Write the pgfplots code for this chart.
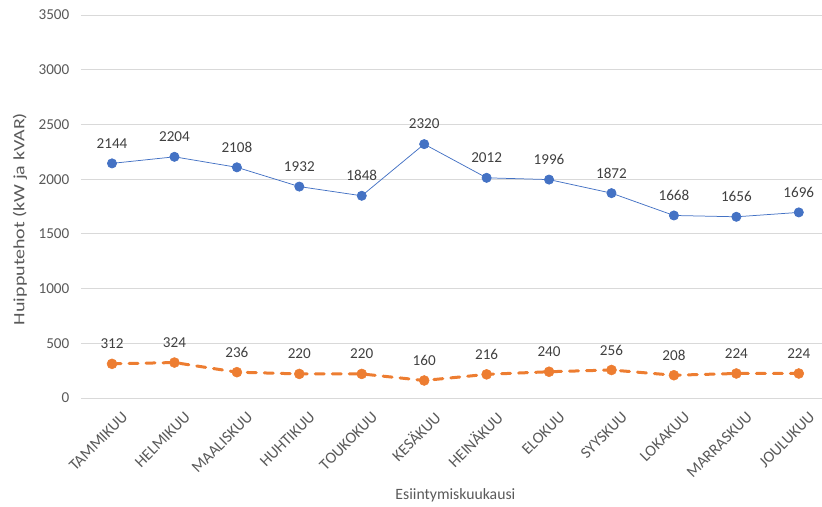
\documentclass[border=0pt]{standalone}
\usepackage{pgfplots}
\pgfplotsset{compat=1.18}
\usepackage{fontspec}
\setmainfont{Carlito}

\definecolor{txt}{HTML}{595959}
\definecolor{lbl}{HTML}{404040}
\definecolor{gridc}{HTML}{D9D9D9}
\definecolor{kw}{HTML}{4472C4}
\definecolor{kvar}{HTML}{ED7D31}

\pgfplotsset{
  /pgf/number format/.cd, 1000 sep={}, assume math mode=true,
}

\begin{document}
\begin{tikzpicture}[x=1bp,y=1bp]
\begin{axis}[
  at={(80.8bp,109bp)}, anchor=south west,
  scale only axis, width=749.2bp, height=383bp,
  xmin=-0.5, xmax=11.5, ymin=0, ymax=3500,
  ytick={0,500,...,3500},
  xtick={0,...,11},
  xticklabels={TAMMIKUU,HELMIKUU,MAALISKUU,HUHTIKUU,TOUKOKUU,KESÄKUU,HEINÄKUU,ELOKUU,SYYSKUU,LOKAKUU,MARRASKUU,JOULUKUU},
  axis line style={draw=none},
  major tick length=0pt,
  ymajorgrids,
  grid style={draw=gridc, line width=0.75pt},
  tick label style={font=\fontsize{15.2}{18}\selectfont, text=txt},
  yticklabel style={xshift=-8bp},
  xticklabel style={font=\fontsize{16}{19}\selectfont, rotate=45, anchor=east, yshift=-21bp, xshift=1bp},
  xlabel={Esiintymiskuukausi},
  ylabel={\scalebox{1.27}[1]{Huipputehot (kW ja kVAR)}},
  label style={font=\fontsize{15.8}{19}\selectfont, text=txt},
  xlabel style={at={(axis description cs:0.5,-0.2533)}, anchor=center},
  ylabel style={at={(axis description cs:-0.0812,0.4674)}, anchor=center},
  nodes near coords,
  every node near coord/.style={font=\fontsize{15.2}{18}\selectfont, text=lbl, anchor=center, yshift=20bp},
  clip=false,
]
% Peak active power (kW)
\addplot[color=kw, line width=0.75pt, mark=*, mark size=4.6bp, mark options={solid, fill=kw, draw=kw}]
  coordinates {(0,2144) (1,2204) (2,2108) (3,1932) (4,1848) (5,2320) (6,2012) (7,1996) (8,1872) (9,1668) (10,1656) (11,1696)};
% Peak reactive power (kVAR)
\addplot[color=kvar, line width=3bp, line cap=round, dash pattern=on 9bp off 8bp, mark=*, mark size=5bp, mark options={solid, fill=kvar, draw=kvar, line width=0.5pt}]
  coordinates {(0,312) (1,324) (2,236) (3,220) (4,220) (5,160) (6,216) (7,240) (8,256) (9,208) (10,224) (11,224)};
\end{axis}
\pgfresetboundingbox
\useasboundingbox (0,0) rectangle (822bp,507bp);
\end{tikzpicture}
\end{document}
